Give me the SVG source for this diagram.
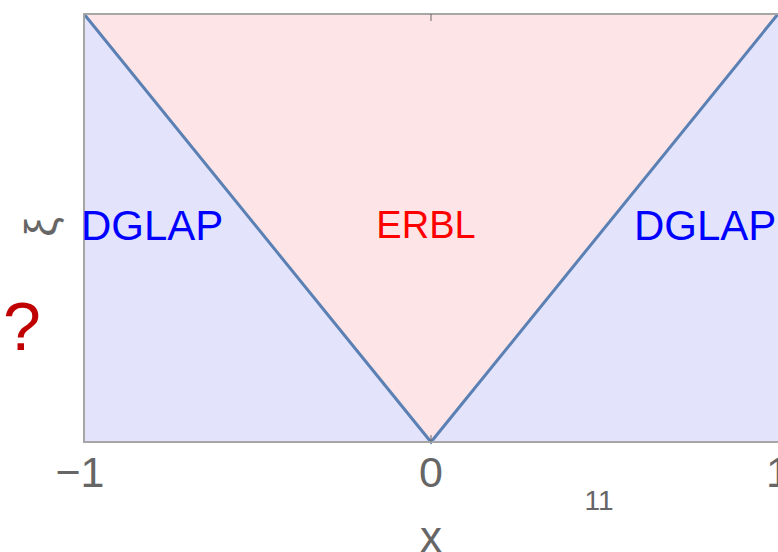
<svg xmlns="http://www.w3.org/2000/svg" width="778" height="552" viewBox="0 0 778 552">
<style>
text{font-family:"Liberation Sans",Arial,sans-serif}
.tick{font-size:43px;fill:#666}
.frame{fill:none;stroke:#a6a6a6;stroke-width:2}
</style>
<rect width="778" height="552" fill="#fff"/>
<g id="dglap-region">
<rect x="84" y="14" width="694" height="428" fill="#e3e3fc"/>
</g>
<g id="erbl-region">
<polygon points="84,14 778,14 431,442" fill="#fde4e7"/>
</g>
<g id="connectors">
<polyline points="84,14 431,442 778,14" fill="none" stroke="#5b80b4" stroke-width="3"/>
</g>
<g id="frame">
<polyline class="frame" points="778,14 84,14 84,442 778,442"/>
<line x1="431" y1="14" x2="431" y2="21" stroke="#666" stroke-width="1"/>
<line x1="431" y1="442" x2="431" y2="435" stroke="#666" stroke-width="1"/>
</g>
<g id="labels">
<text x="81" y="240" font-size="42" fill="#0000ff">DGLAP</text>
<text x="426" y="238" font-size="38" fill="#ff0000" text-anchor="middle">ERBL</text>
<text x="634" y="240" font-size="42" fill="#0000ff">DGLAP</text>
<text x="3" y="350" font-size="68" fill="#c00000">?</text>
<text font-size="44" fill="#666" text-anchor="middle" transform="translate(56 227) rotate(-90)">ξ</text>
</g>
<g id="axis-labels">
<text class="tick" x="80" y="487" text-anchor="middle">−1</text>
<text class="tick" x="431" y="487" text-anchor="middle">0</text>
<text class="tick" x="778" y="487" text-anchor="middle">1</text>
<text x="599" y="510" font-size="28" fill="#666" text-anchor="middle">11</text>
<text x="431" y="552" font-size="44" fill="#666" text-anchor="middle">x</text>
</g>
</svg>
